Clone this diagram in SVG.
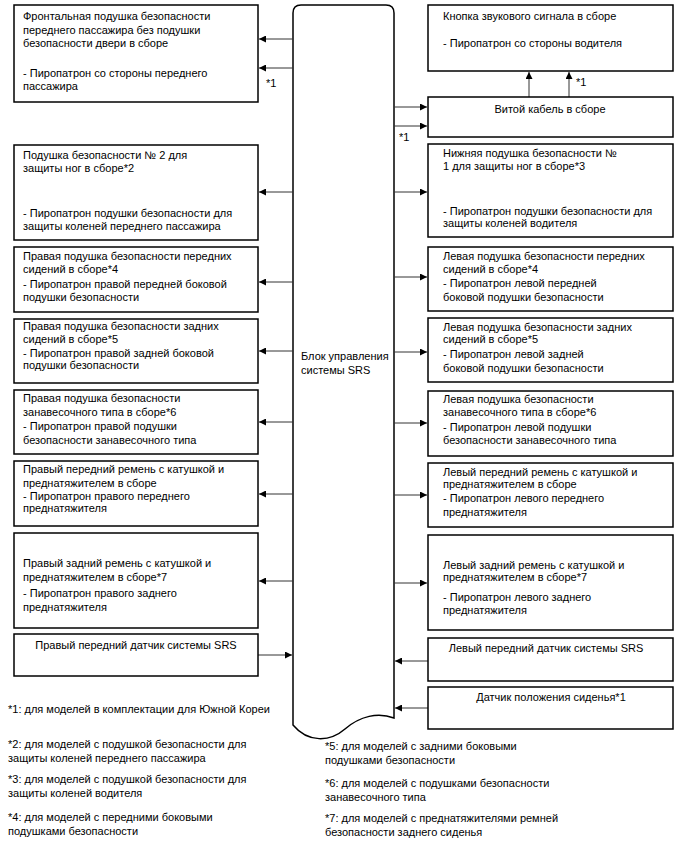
<svg xmlns="http://www.w3.org/2000/svg" width="688" height="852" viewBox="0 0 688 852">
<style>
text{font-family:"Liberation Sans",Arial,sans-serif;font-size:11px;fill:#000}
.box{fill:#fff;stroke:#000;stroke-width:1.5}
.c{text-anchor:middle}
.ln{stroke:#333;stroke-width:1;fill:none}
</style>
<defs>
<marker id="ah" viewBox="0 0 10 10" refX="10" refY="5" markerWidth="9" markerHeight="7" markerUnits="userSpaceOnUse" orient="auto">
<path d="M0,0 L10,5 L0,10 z" fill="#000"/>
</marker>
</defs>
<rect width="688" height="852" fill="#fff"/>

<g id="ecu">
<path class="box" d="M293,725 V13 Q293,5 301,5 H386 Q394,5 394,13 V718 C378,712 360,716 345,729 C330,742 308,743 293,725 Z"/>
<text x="301" y="360">Блок управления</text>
<text x="301" y="374">системы SRS</text>
</g>

<g id="connectors">
<line class="ln" x1="293" y1="39" x2="259" y2="39" marker-end="url(#ah)"/>
<line class="ln" x1="293" y1="68" x2="259" y2="68" marker-end="url(#ah)"/>
<text x="266" y="87">*1</text>
<line class="ln" x1="293" y1="192" x2="259" y2="192" marker-end="url(#ah)"/>
<line class="ln" x1="293" y1="282" x2="259" y2="282" marker-end="url(#ah)"/>
<line class="ln" x1="293" y1="351" x2="259" y2="351" marker-end="url(#ah)"/>
<line class="ln" x1="293" y1="422" x2="259" y2="422" marker-end="url(#ah)"/>
<line class="ln" x1="293" y1="494" x2="259" y2="494" marker-end="url(#ah)"/>
<line class="ln" x1="293" y1="581" x2="259" y2="581" marker-end="url(#ah)"/>
<line class="ln" x1="258" y1="655" x2="292" y2="655" marker-end="url(#ah)"/>

<line class="ln" x1="394" y1="107" x2="427" y2="107" marker-end="url(#ah)"/>
<line class="ln" x1="394" y1="126" x2="427" y2="126" marker-end="url(#ah)"/>
<text x="399" y="141">*1</text>
<line class="ln" x1="529" y1="97" x2="529" y2="72" marker-end="url(#ah)"/>
<line class="ln" x1="569" y1="97" x2="569" y2="72" marker-end="url(#ah)"/>
<text x="576" y="86">*1</text>
<line class="ln" x1="394" y1="192" x2="427" y2="192" marker-end="url(#ah)"/>
<line class="ln" x1="394" y1="277" x2="427" y2="277" marker-end="url(#ah)"/>
<line class="ln" x1="394" y1="352" x2="427" y2="352" marker-end="url(#ah)"/>
<line class="ln" x1="394" y1="423" x2="427" y2="423" marker-end="url(#ah)"/>
<line class="ln" x1="394" y1="495" x2="427" y2="495" marker-end="url(#ah)"/>
<line class="ln" x1="394" y1="583" x2="427" y2="583" marker-end="url(#ah)"/>
<line class="ln" x1="428" y1="661" x2="395" y2="661" marker-end="url(#ah)"/>
<line class="ln" x1="428" y1="708" x2="395" y2="708" marker-end="url(#ah)"/>
</g>

<g id="l1">
<rect class="box" x="14" y="5" width="244" height="97"/>
<text x="23" y="20">Фронтальная подушка безопасности</text>
<text x="23" y="34">переднего пассажира без подушки</text>
<text x="23" y="47">безопасности двери в сборе</text>
<text x="23" y="77">- Пиропатрон со стороны переднего</text>
<text x="23" y="90">пассажира</text>
</g>
<g id="l2">
<rect class="box" x="14" y="145" width="244" height="95"/>
<text x="23" y="159">Подушка безопасности № 2 для</text>
<text x="23" y="172">защиты ног в сборе*2</text>
<text x="23" y="217">- Пиропатрон подушки безопасности для</text>
<text x="23" y="230">защиты коленей переднего пассажира</text>
</g>
<g id="l3">
<rect class="box" x="14" y="247" width="244" height="65"/>
<text x="23" y="260">Правая подушка безопасности передних</text>
<text x="23" y="273">сидений в сборе*4</text>
<text x="23" y="288">- Пиропатрон правой передней боковой</text>
<text x="23" y="301">подушки безопасности</text>
</g>
<g id="l4">
<rect class="box" x="14" y="319" width="244" height="64"/>
<text x="23" y="330">Правая подушка безопасности задних</text>
<text x="23" y="343">сидений в сборе*5</text>
<text x="23" y="357">- Пиропатрон правой задней боковой</text>
<text x="23" y="369">подушки безопасности</text>
</g>
<g id="l5">
<rect class="box" x="14" y="390" width="244" height="64"/>
<text x="23" y="402">Правая подушка безопасности</text>
<text x="23" y="416">занавесочного типа в сборе*6</text>
<text x="23" y="430">- Пиропатрон правой подушки</text>
<text x="23" y="444">безопасности занавесочного типа</text>
</g>
<g id="l6">
<rect class="box" x="14" y="461" width="244" height="65"/>
<text x="23" y="473">Правый передний ремень с катушкой и</text>
<text x="23" y="487">преднатяжителем в сборе</text>
<text x="23" y="500">- Пиропатрон правого переднего</text>
<text x="23" y="512">преднатяжителя</text>
</g>
<g id="l7">
<rect class="box" x="14" y="533" width="244" height="95"/>
<text x="23" y="567">Правый задний ремень с катушкой и</text>
<text x="23" y="581">преднатяжителем в сборе*7</text>
<text x="23" y="597">- Пиропатрон правого заднего</text>
<text x="23" y="611">преднатяжителя</text>
</g>
<g id="l8">
<rect class="box" x="14" y="634" width="244" height="42"/>
<text class="c" x="136" y="649">Правый передний датчик системы SRS</text>
</g>

<g id="r1">
<rect class="box" x="428" y="5" width="245" height="66"/>
<text x="443" y="20">Кнопка звукового сигнала в сборе</text>
<text x="443" y="47">- Пиропатрон со стороны водителя</text>
</g>
<g id="r2">
<rect class="box" x="428" y="97" width="245" height="40"/>
<text class="c" x="550" y="113">Витой кабель в сборе</text>
</g>
<g id="r3">
<rect class="box" x="428" y="144" width="245" height="93"/>
<text x="443" y="157">Нижняя подушка безопасности №</text>
<text x="443" y="170">1 для защиты ног в сборе*3</text>
<text x="443" y="215">- Пиропатрон подушки безопасности для</text>
<text x="443" y="227">защиты коленей водителя</text>
</g>
<g id="r4">
<rect class="box" x="428" y="247" width="245" height="64"/>
<text x="443" y="260">Левая подушка безопасности передних</text>
<text x="443" y="273">сидений в сборе*4</text>
<text x="443" y="287">- Пиропатрон левой передней</text>
<text x="443" y="301">боковой подушки безопасности</text>
</g>
<g id="r5">
<rect class="box" x="428" y="318" width="245" height="64"/>
<text x="443" y="331">Левая подушка безопасности задних</text>
<text x="443" y="343">сидений в сборе*5</text>
<text x="443" y="358">- Пиропатрон левой задней</text>
<text x="443" y="372">боковой подушки безопасности</text>
</g>
<g id="r6">
<rect class="box" x="428" y="391" width="245" height="65"/>
<text x="443" y="403">Левая подушка безопасности</text>
<text x="443" y="416">занавесочного типа в сборе*6</text>
<text x="443" y="431">- Пиропатрон левой подушки</text>
<text x="443" y="444">безопасности занавесочного типа</text>
</g>
<g id="r7">
<rect class="box" x="428" y="463" width="245" height="64"/>
<text x="443" y="476">Левый передний ремень с катушкой и</text>
<text x="443" y="488">преднатяжителем в сборе</text>
<text x="443" y="502">- Пиропатрон левого переднего</text>
<text x="443" y="516">преднатяжителя</text>
</g>
<g id="r8">
<rect class="box" x="428" y="535" width="245" height="95"/>
<text x="443" y="569">Левый задний ремень с катушкой и</text>
<text x="443" y="581">преднатяжителем в сборе*7</text>
<text x="443" y="601">- Пиропатрон левого заднего</text>
<text x="443" y="614">преднатяжителя</text>
</g>
<g id="r9">
<rect class="box" x="428" y="638" width="245" height="43"/>
<text class="c" x="546" y="652">Левый передний датчик системы SRS</text>
</g>
<g id="r10">
<rect class="box" x="428" y="687" width="245" height="42"/>
<text class="c" x="551" y="701">Датчик положения сиденья*1</text>
</g>

<g id="notes">
<text x="8" y="713">*1: для моделей в комплектации для Южной Кореи</text>
<text x="8" y="748">*2: для моделей с подушкой безопасности для</text>
<text x="8" y="762">защиты коленей переднего пассажира</text>
<text x="8" y="783">*3: для моделей с подушкой безопасности для</text>
<text x="8" y="797">защиты коленей водителя</text>
<text x="8" y="821">*4: для моделей с передними боковыми</text>
<text x="8" y="835">подушками безопасности</text>
<text x="325" y="750">*5: для моделей с задними боковыми</text>
<text x="325" y="764">подушками безопасности</text>
<text x="325" y="787">*6: для моделей с подушками безопасности</text>
<text x="325" y="801">занавесочного типа</text>
<text x="325" y="822">*7: для моделей с преднатяжителями ремней</text>
<text x="325" y="836">безопасности заднего сиденья</text>
</g>
</svg>
